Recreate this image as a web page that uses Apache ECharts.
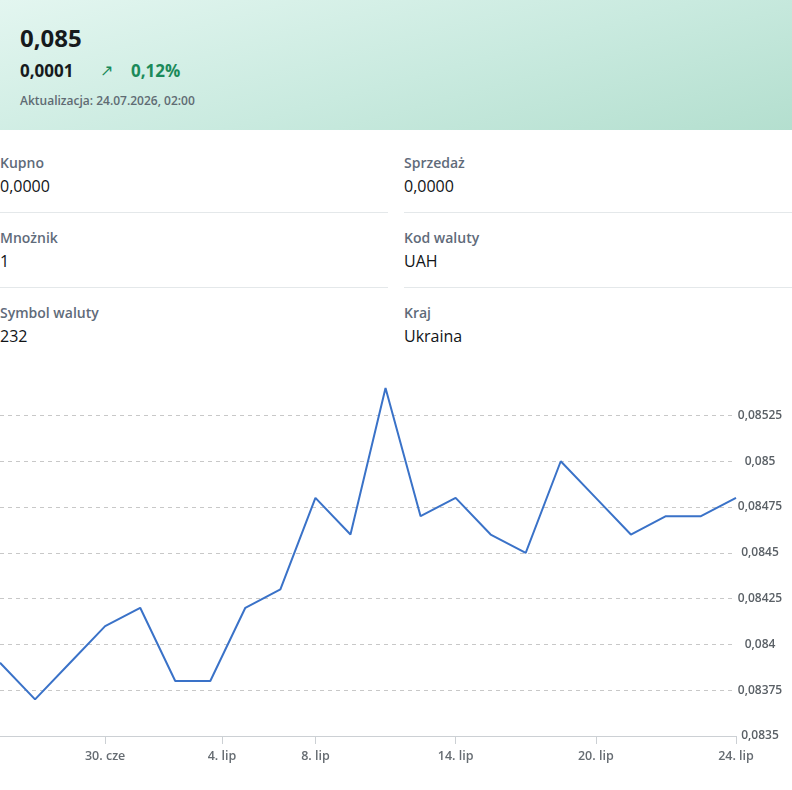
<!DOCTYPE html>
<html lang="pl">
<head>
<meta charset="utf-8">
<script src="https://cdn.jsdelivr.net/npm/echarts@6.0.0/dist/echarts.min.js"></script>
<style>
  body { margin: 0; width: 792px; height: 790px; font-family: "Open Sans", sans-serif; background: #fff; position: relative; overflow: hidden; }
  .head { position: absolute; left: 0; top: 0; width: 792px; height: 130px; background: linear-gradient(165deg, #e3f6f0 0%, #c9eadf 55%, #b4dfcf 100%); }
  .rate { position: absolute; left: 20px; top: 21px; font-size: 24px; font-weight: 700; color: #161a1d; }
  .diff { position: absolute; left: 20px; top: 59px; font-size: 17px; font-weight: 700; color: #161a1d; }
  .arrow { position: absolute; left: 100px; top: 59px; font-size: 16px; color: #1b8a5a; }
  .pct { position: absolute; left: 131px; top: 59px; font-size: 17px; font-weight: 700; color: #1b8a5a; }
  .upd { position: absolute; left: 20px; top: 92px; font-size: 12px; font-weight: 600; color: #5f6b73; }
  .cell { position: absolute; width: 388px; height: 75px; }
  .cell .lab { position: absolute; left: 0; top: 13px; font-size: 14px; font-weight: 600; color: #5f6b7a; }
  .cell .val { position: absolute; left: 0; top: 35px; font-size: 16px; font-weight: 500; color: #111417; }
  .sep { position: absolute; height: 1px; background: #e4e8ea; }
  #chart { position: absolute; left: 0; top: 360px; width: 792px; height: 430px; }
</style>
</head>
<body>
<div class="head">
  <div class="rate">0,085</div>
  <div class="diff">0,0001</div>
  <div class="arrow">↗</div>
  <div class="pct">0,12%</div>
  <div class="upd">Aktualizacja: 24.07.2026, 02:00</div>
</div>

<div class="cell" style="left:0;top:140px"><div class="lab">Kupno</div><div class="val">0,0000</div></div>
<div class="cell" style="left:404px;top:140px"><div class="lab">Sprzedaż</div><div class="val">0,0000</div></div>
<div class="sep" style="left:0;width:388px;top:212px"></div>
<div class="sep" style="left:404px;width:388px;top:212px"></div>
<div class="cell" style="left:0;top:215px"><div class="lab">Mnożnik</div><div class="val">1</div></div>
<div class="cell" style="left:404px;top:215px"><div class="lab">Kod waluty</div><div class="val">UAH</div></div>
<div class="sep" style="left:0;width:388px;top:287px"></div>
<div class="sep" style="left:404px;width:388px;top:287px"></div>
<div class="cell" style="left:0;top:290px"><div class="lab">Symbol waluty</div><div class="val">232</div></div>
<div class="cell" style="left:404px;top:290px"><div class="lab">Kraj</div><div class="val">Ukraina</div></div>

<div id="chart"></div>

<script>
// business days shown on the chart
const dates = [
  '2026-06-25', '2026-06-26', '2026-06-29', '2026-06-30', '2026-07-01', '2026-07-02', '2026-07-03',
  '2026-07-06', '2026-07-07', '2026-07-08', '2026-07-09', '2026-07-10', '2026-07-13', '2026-07-14',
  '2026-07-15', '2026-07-16', '2026-07-17', '2026-07-20', '2026-07-21', '2026-07-22', '2026-07-23',
  '2026-07-24'
];
const rates = [
  0.0839, 0.0837, 0.0839, 0.0841, 0.0842, 0.0838, 0.0838,
  0.0842, 0.0843, 0.0848, 0.0846, 0.0854, 0.0847, 0.0848,
  0.0846, 0.0845, 0.0850, 0.0848, 0.0846, 0.0847, 0.0847,
  0.0848
];
const tickDates = ['2026-06-30', '2026-07-04', '2026-07-08', '2026-07-14', '2026-07-20', '2026-07-24'];
const monthNames = ['sty', 'lut', 'mar', 'kwi', 'maj', 'cze', 'lip', 'sie', 'wrz', 'paź', 'lis', 'gru'];

const yMin = 0.0835, yMax = 0.0854, yStep = 0.00025;

// ordinal axis: points are evenly spaced, other dates are interpolated between them
const times = dates.map(d => Date.parse(d));
function ordinalPos(d) {
  const t = Date.parse(d);
  for (let i = 0; i < times.length - 1; i++) {
    if (t >= times[i] && t <= times[i + 1]) return i + (t - times[i]) / (times[i + 1] - times[i]);
  }
  return t <= times[0] ? 0 : times.length - 1;
}
const tickPos = tickDates.map(ordinalPos);
function labelFor(v) {
  let k = 0;
  for (let i = 1; i < tickPos.length; i++) if (Math.abs(tickPos[i] - v) < Math.abs(tickPos[k] - v)) k = i;
  const p = tickDates[k].split('-');
  return (+p[2]) + '. ' + monthNames[+p[1] - 1];
}

const chart = echarts.init(document.getElementById('chart'));
chart.setOption({
  animation: false,
  grid: { left: 0, right: 56, top: 28, bottom: 54 },
  xAxis: {
    type: 'value',
    min: 0,
    max: dates.length - 1,
    splitLine: { show: false },
    axisLine: { show: true, lineStyle: { color: '#ccd0d4', width: 1 } },
    axisTick: { show: true, customValues: tickPos, length: 8, lineStyle: { color: '#ccd0d4' } },
    axisLabel: {
      customValues: tickPos,
      formatter: labelFor,
      color: '#666c72', fontSize: 12.5, fontWeight: 600, fontFamily: 'Open Sans', margin: 14
    }
  },
  yAxis: {
    type: 'value',
    position: 'right',
    min: yMin,
    max: yMax,
    interval: yStep,
    axisLine: { show: false },
    axisTick: { show: false },
    splitLine: { show: true, showMinLine: false, showMaxLine: false, lineStyle: { color: '#c8c8c8', type: [4, 4] } },
    axisLabel: {
      showMaxLabel: false,
      align: 'center',
      margin: 24,
      color: '#5a6066', fontSize: 12, fontWeight: 600, fontFamily: 'Open Sans',
      formatter: v => parseFloat(v.toFixed(6)).toString().replace('.', ',')
    }
  },
  series: [{
    type: 'line',
    data: rates.map((r, i) => [i, r]),
    symbol: 'none',
    lineStyle: { color: '#3a72c8', width: 2 }
  }]
});
</script>
</body>
</html>
